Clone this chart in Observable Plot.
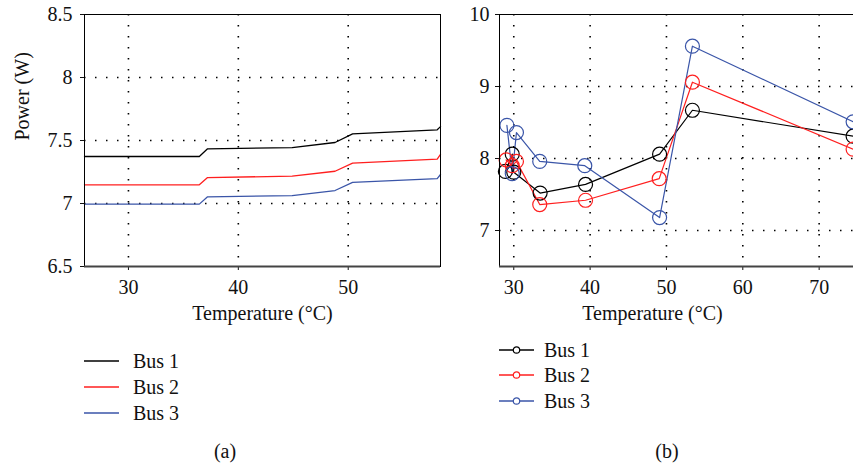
<!DOCTYPE html>
<html>
<head>
<meta charset="utf-8">
<script src="https://cdn.jsdelivr.net/npm/d3@7"></script>
<script src="https://cdn.jsdelivr.net/npm/@observablehq/plot@0.6"></script>
<style>
  html, body { margin: 0; padding: 0; background: #fff; overflow: hidden; }
  #root { position: relative; width: 853px; height: 466px; font-family: "Liberation Serif", "DejaVu Serif", serif; color: #111; }
  .panel { position: absolute; top: 0; }
  .lab { position: absolute; font-size: 20px; line-height: 24px; height: 24px; white-space: nowrap; }
  .sw { position: absolute; }
</style>
</head>
<body>
<div id="root">
  <div id="pa" class="panel" style="left:0px"></div>
  <div id="pb" class="panel" style="left:440px"></div>
</div>
<script>
// ---------- Data ----------
const seriesNames = ["Bus 1", "Bus 2", "Bus 3"];
const seriesColors = ["#000000", "#ff1f1f", "#3a55a8"];

// Panel (a)
const tempA = [26, 36.45, 37.2, 44.9, 48.8, 50.4, 58.1, 58.4];
const bus1A = [7.373, 7.373, 7.434, 7.444, 7.484, 7.553, 7.585, 7.61];
const bus2A = [7.148, 7.148, 7.206, 7.217, 7.256, 7.32, 7.352, 7.389];
const bus3A = [6.995, 6.995, 7.053, 7.063, 7.103, 7.167, 7.198, 7.23];
const xTicksA = [30, 40, 50];
const yTicksA = [6.5, 7, 7.5, 8, 8.5];
const gridYA = [7, 7.5, 8];

// Panel (b)
const bus1BTemp = [28.9, 29.8, 30.0, 33.45, 39.4, 49.1, 53.4, 74.45];
const bus1B     = [7.82, 8.06, 7.81, 7.52, 7.64, 8.06, 8.67, 8.31];
const bus2BTemp = [29.0, 29.8, 30.35, 33.4, 39.4, 49.05, 53.4, 74.45];
const bus2B     = [7.98, 7.90, 7.96, 7.36, 7.42, 7.72, 9.06, 8.13];
const bus3BTemp = [29.1, 29.8, 30.35, 33.4, 39.3, 49.1, 53.4, 74.45];
const bus3B     = [8.46, 7.79, 8.36, 7.96, 7.90, 7.18, 9.56, 8.51];
const xTicksB = [30, 40, 50, 60, 70];
const yTicksB = [7, 8, 9, 10];
const gridYB = [7, 8, 9];

const xLabel = "Temperature (°C)";
const yLabel = "Power (W)";

// ---------- Build tables ----------
const rowsA = [bus1A, bus2A, bus3A].map((vals, s) =>
  tempA.map((t, i) => ({ t, v: vals[i], s: seriesNames[s] })));
const rowsB = [[bus1BTemp, bus1B], [bus2BTemp, bus2B], [bus3BTemp, bus3B]].map(([ts, vals], s) =>
  ts.map((t, i) => ({ t, v: vals[i], s: seriesNames[s] })));

const font = { fontFamily: '"Liberation Serif", "DejaVu Serif", serif', fontSize: "20px", color: "#111", background: "transparent" };
const dots = { stroke: "#000", strokeWidth: 1.6, strokeDasharray: "1.5,9.5" };

// ---------- Panel (a) ----------
const plotA = Plot.plot({
  width: 445, height: 340,
  marginLeft: 84, marginRight: 5, marginTop: 14, marginBottom: 74,
  style: font,
  x: { domain: [26, 58.4], ticks: xTicksA, tickSize: 4, tickPadding: 9, label: null, tickFormat: d => String(d) },
  y: { domain: [6.5, 8.5], ticks: yTicksA, tickSize: 4, tickPadding: 8, label: null, tickFormat: d => String(d) },
  marks: [
    Plot.ruleX(xTicksA, dots),
    Plot.ruleY(gridYA, dots),
    ...rowsA.map((rows, s) => Plot.line(rows, { x: "t", y: "v", stroke: seriesColors[s], strokeWidth: 1.3 })),
    Plot.frame({ stroke: "#000", strokeWidth: 1 }),
    Plot.ruleY([6.5], { stroke: "#444", strokeWidth: 2 }),
    Plot.text([xLabel], { frameAnchor: "bottom", text: d => d, dy: 53, fontSize: 20 }),
    Plot.text([yLabel], { frameAnchor: "left", text: d => d, dx: -62, rotate: -90, fontSize: 20 })
  ]
});
document.getElementById("pa").appendChild(plotA);

// ---------- Panel (b) ----------
const plotB = Plot.plot({
  width: 413, height: 340,
  marginLeft: 59, marginRight: 0, marginTop: 14, marginBottom: 74,
  style: font,
  x: { domain: [28.13, 74.5], ticks: xTicksB, tickSize: 4, tickPadding: 9, label: null, tickFormat: d => String(d) },
  y: { domain: [6.5, 10], ticks: yTicksB, tickSize: 4, tickPadding: 6, label: null, tickFormat: d => String(d) },
  marks: [
    Plot.ruleX(xTicksB, dots),
    Plot.ruleY(gridYB, dots),
    ...rowsB.map((rows, s) => Plot.line(rows, { x: "t", y: "v", stroke: seriesColors[s], strokeWidth: 1.2 })),
    ...rowsB.map((rows, s) => Plot.dot(rows, { x: "t", y: "v", r: 7, stroke: seriesColors[s], strokeWidth: 1.2, fill: "none" })),
    Plot.ruleY([10], { stroke: "#000", strokeWidth: 1 }),
    Plot.ruleX([28.13], { stroke: "#000", strokeWidth: 1 }),
    Plot.ruleY([6.5], { stroke: "#444", strokeWidth: 2 }),
    Plot.text([xLabel], { frameAnchor: "bottom", text: d => d, dx: -24, dy: 53, fontSize: 20 })
  ]
});
document.getElementById("pb").appendChild(plotB);

// ---------- Legends & captions (HTML) ----------
const root = document.getElementById("root");
function addLabel(text, left, cy, center) {
  const d = document.createElement("div");
  d.className = "lab";
  d.textContent = text;
  d.style.top = (cy - 12) + "px";
  if (center) { d.style.left = (left - 50) + "px"; d.style.width = "100px"; d.style.textAlign = "center"; }
  else d.style.left = left + "px";
  root.appendChild(d);
}
function addSwatch(x0, x1, cy, color, marker) {
  const ns = "http://www.w3.org/2000/svg";
  const svg = document.createElementNS(ns, "svg");
  svg.setAttribute("class", "sw");
  svg.setAttribute("width", x1 - x0 + 2);
  svg.setAttribute("height", 12);
  svg.style.left = (x0 - 1) + "px";
  svg.style.top = (cy - 6) + "px";
  const ln = document.createElementNS(ns, "line");
  ln.setAttribute("x1", 1); ln.setAttribute("x2", x1 - x0 + 1);
  ln.setAttribute("y1", 6); ln.setAttribute("y2", 6);
  ln.setAttribute("stroke", color); ln.setAttribute("stroke-width", 1.4);
  svg.appendChild(ln);
  if (marker) {
    const c = document.createElementNS(ns, "circle");
    c.setAttribute("cx", (x1 - x0) / 2 + 1); c.setAttribute("cy", 6); c.setAttribute("r", 3.2);
    c.setAttribute("fill", "#fff"); c.setAttribute("stroke", color); c.setAttribute("stroke-width", 1.2);
    svg.appendChild(c);
  }
  root.appendChild(svg);
}
const legARows = [361, 387, 413];
const legBRows = [350, 375, 401];
seriesNames.forEach((name, i) => {
  addSwatch(84, 119, legARows[i], seriesColors[i], false);
  addLabel(name, 133, legARows[i], false);
  addSwatch(499, 534, legBRows[i], seriesColors[i], true);
  addLabel(name, 544, legBRows[i], false);
});
addLabel("(a)", 225, 451, true);
addLabel("(b)", 667, 451, true);
</script>
</body>
</html>
